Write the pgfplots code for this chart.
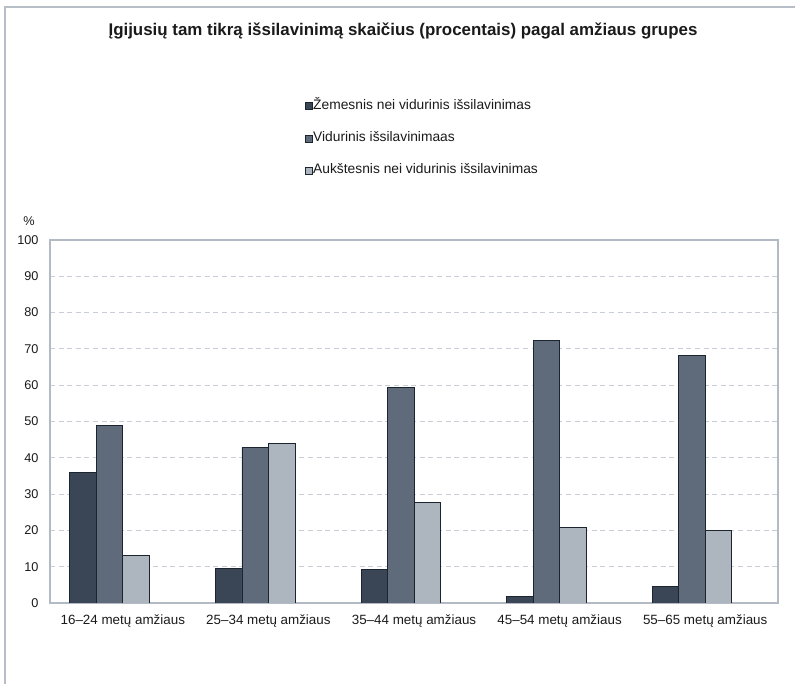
\documentclass[border=0pt]{standalone}
\usepackage{fontspec}
\setmainfont{Liberation Sans}
\usepackage{pgfplots}
\pgfplotsset{compat=1.18}

\definecolor{barDark}{HTML}{3A4656}
\definecolor{barMid}{HTML}{5F6B7A}
\definecolor{barLight}{HTML}{ADB5BF}
\definecolor{barEdge}{HTML}{1C2430}
\definecolor{frameGray}{HTML}{B8BEC7}
\definecolor{axisGray}{HTML}{B4BAC4}
\definecolor{gridGray}{HTML}{C9CDD5}
\definecolor{textDark}{HTML}{1A1A1A}

\pgfplotsset{
  sqlegend/.style={legend image code/.code={%
    \draw[##1,draw=barEdge,line width=0.6pt] (0pt,-3.4pt) rectangle (7pt,3.4pt);}},
}

\begin{document}
\begin{tikzpicture}[x=1pt,y=1pt]
  \useasboundingbox (0pt,0pt) rectangle (795pt,684pt);
  % outer frame (only left and top edges are visible)
  \draw[frameGray,line width=2pt] (5pt,-5pt) -- (5pt,676.5pt) -- (800pt,676.5pt);
  % title
  \node[anchor=base,font=\fontsize{16.9}{18}\selectfont\bfseries,text=textDark]
    at (403pt,648.5pt) {Įgijusių tam tikrą išsilavinimą skaičius (procentais) pagal amžiaus grupes};

  \begin{axis}[
    at={(50pt,81pt)}, anchor=south west,
    scale only axis, width=728pt, height=363pt,
    xmin=-0.5, xmax=4.5, ymin=0, ymax=100,
    xtick={0,1,2,3,4},
    xticklabels={16--24 metų amžiaus,25--34 metų amžiaus,35--44 metų amžiaus,45--54 metų amžiaus,55--65 metų amžiaus},
    ytick={0,10,...,100},
    major tick length=0pt,
    axis line style={axisGray,line width=1.3pt},
    ymajorgrids, xmajorgrids=false,
    grid style={gridGray,line width=0.9pt,dash pattern=on 5pt off 3.6pt},
    /pgf/number format/assume math mode=true,
    tick label style={text=textDark},
    yticklabel style={font=\fontsize{12.7}{14}\selectfont,xshift=-8pt},
    xticklabel style={font=\fontsize{13.4}{15}\selectfont,yshift=-8.5pt},
    ylabel={\%},
    ylabel style={rotate=-90,font=\fontsize{12.7}{14}\selectfont,text=textDark,
      at={(axis description cs:-0.0288,1.053)},anchor=center},
    ybar, bar width=0.182,
    legend style={
      at={(axis description cs:0.35,1.3857)}, anchor=north west,
      draw=none, fill=none, inner sep=0pt,
      font=\fontsize{13.8}{15}\selectfont, text=textDark,
      row sep=20.3pt, column sep=0.6pt,
      nodes={inner sep=0pt,text height=9pt,text depth=3pt},
    },
    legend cell align=left,
  ]
    \addplot[fill=barDark,draw=barEdge,line width=0.8pt,bar shift=-0.273,sqlegend]
      coordinates {(0,36.0) (1,9.4) (2,9.2) (3,1.7) (4,4.5)};
    \addplot[fill=barMid,draw=barEdge,line width=0.8pt,bar shift=-0.091,sqlegend]
      coordinates {(0,48.8) (1,42.9) (2,59.3) (3,72.3) (4,68.3)};
    \addplot[fill=barLight,draw=barEdge,line width=0.8pt,bar shift=0.091,sqlegend]
      coordinates {(0,13.2) (1,43.9) (2,27.7) (3,20.9) (4,20.0)};
    \legend{Žemesnis nei vidurinis išsilavinimas,Vidurinis išsilavinimaas,Aukštesnis nei vidurinis išsilavinimas}
  \end{axis}
\end{tikzpicture}
\end{document}
